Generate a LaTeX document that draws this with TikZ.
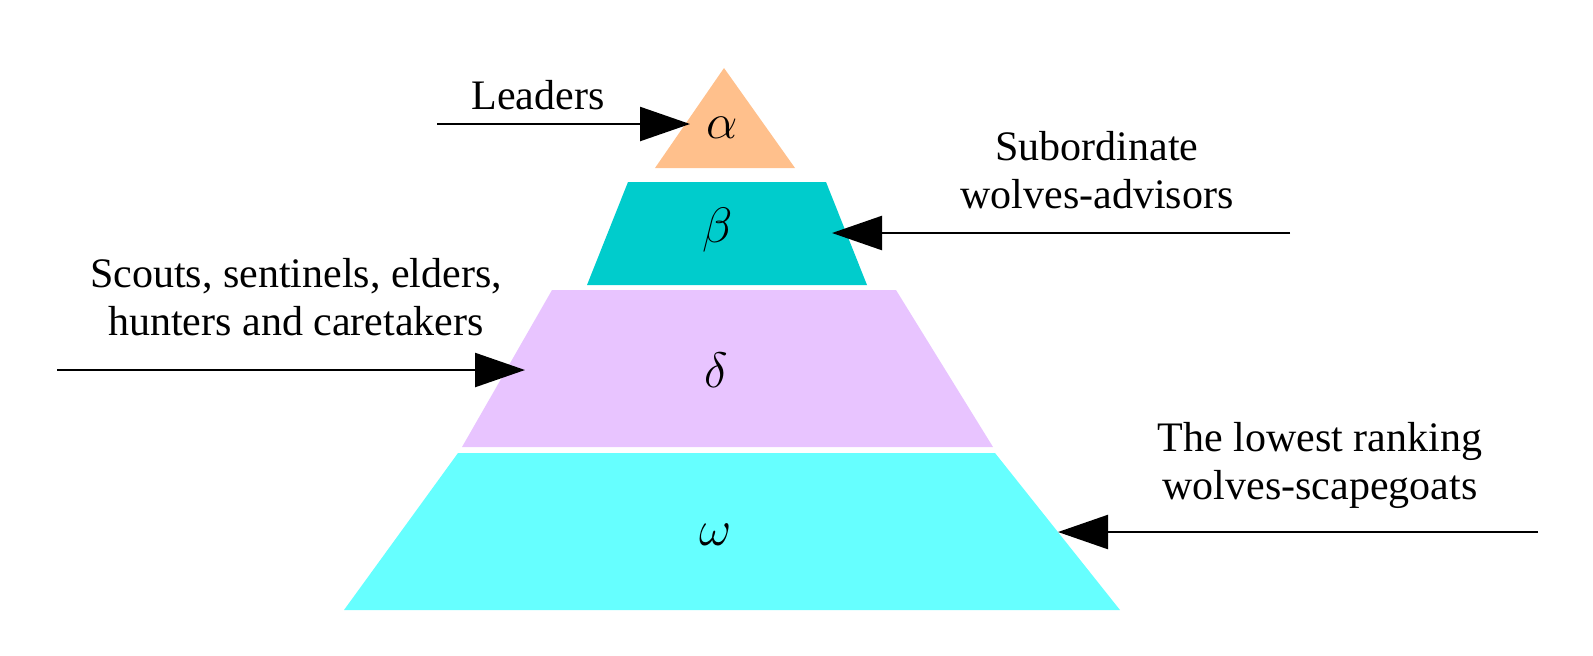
\documentclass[tikz,border=0pt]{standalone}
\usepackage{fontspec}
\setmainfont{Liberation Serif}
\usetikzlibrary{arrows.meta}
\definecolor{ca}{HTML}{FFC08C}
\definecolor{cb}{HTML}{00CCCC}
\definecolor{cd}{HTML}{E8C4FF}
\definecolor{cw}{HTML}{66FFFF}
\begin{document}
\begin{tikzpicture}[x=0.5pt,y=-0.5pt,
  lbl/.style={align=center,font=\fontsize{21}{24}\selectfont},
  gr/.style={font=\fontsize{30}{32}\selectfont},
  arr/.style={line width=1.2pt,-{Triangle[length=25pt,width=17pt]}}]
\useasboundingbox (0,0) rectangle (1593,655);
\fill[ca] (724,68) -- (795,168) -- (655,168) -- cycle;
\fill[cb] (628,182) -- (826,182) -- (867,285) -- (587,285) -- cycle;
\fill[cd] (552,290) -- (896,290) -- (993,447) -- (462,447) -- cycle;
\fill[cw] (458,453) -- (995,453) -- (1120,610) -- (344,610) -- cycle;
\node[gr] (a) at (722,128) {$\alpha$};
\node[gr] (b) at (718,230) {$\beta$};
\node[gr] (d) at (716,370) {$\delta$};
\node[gr] (w) at (716,535) {$\omega$};
\node[lbl] (la) at (538,95) {Leaders};
\node[lbl] (lb) at (1097,170) {Subordinate\\wolves-advisors};
\node[lbl] (ld) at (296,297) {Scouts, sentinels, elders,\\hunters and caretakers};
\node[lbl] (lw) at (1320,465) {The lowest ranking\\wolves-scapegoats};
\coordinate (sa) at (437,124); \coordinate (ta) at (690,124);
\coordinate (sb) at (1290,233); \coordinate (tb) at (832,233);
\coordinate (sd) at (57,370); \coordinate (td) at (525,370);
\coordinate (sw) at (1538,532); \coordinate (tw) at (1058,532);
\draw[arr] (sa) -- (ta);
\draw[arr] (sb) -- (tb);
\draw[arr] (sd) -- (td);
\draw[arr] (sw) -- (tw);
\end{tikzpicture}
\end{document}
